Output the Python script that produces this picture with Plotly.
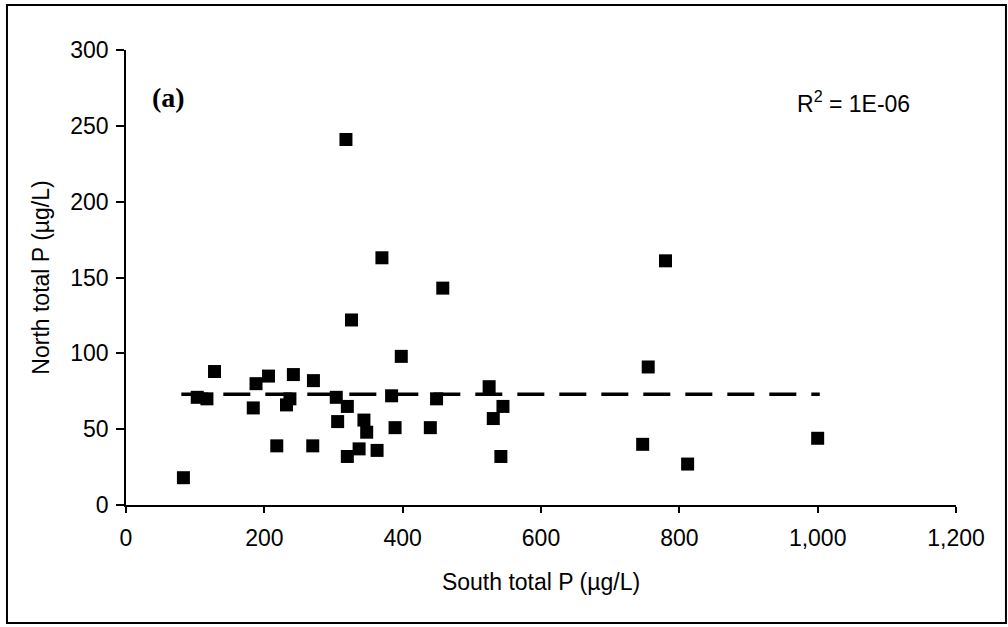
import plotly.graph_objects as go

# Data
south_p = [83, 103, 117, 128, 184, 188, 206, 218, 232, 237, 242, 270, 271, 304, 306,
           318, 320, 320, 326, 337, 344, 348, 363, 370, 384, 389, 398, 440, 449, 458,
           525, 531, 542, 545, 747, 755, 780, 812, 1000]
north_p = [18, 71, 70, 88, 64, 80, 85, 39, 66, 70, 86, 39, 82, 71, 55,
           241, 65, 32, 122, 37, 56, 48, 36, 163, 72, 51, 98, 51, 70, 143,
           78, 57, 32, 65, 40, 91, 161, 27, 44]
trend_x = [80, 1003]
trend_y = [73, 73]
x_ticks = [0, 200, 400, 600, 800, 1000, 1200]
y_ticks = [0, 50, 100, 150, 200, 250, 300]

FONT = "Liberation Sans, Arial, sans-serif"
FS = 23

fig = go.Figure()
fig.add_trace(go.Scatter(
    x=trend_x, y=trend_y, mode="lines",
    line=dict(color="black", width=3.5, dash="27px,15px"),
    hoverinfo="skip", showlegend=False))
fig.add_trace(go.Scatter(
    x=south_p, y=north_p, mode="markers",
    marker=dict(symbol="square", size=13, color="black"),
    showlegend=False))

fig.update_layout(
    width=1008, height=627,
    margin=dict(l=126, r=52, t=50, b=122),
    paper_bgcolor="white", plot_bgcolor="white",
    font=dict(family=FONT, color="black", size=FS),
    showlegend=False,
)
fig.update_xaxes(
    range=[0, 1200], tickvals=x_ticks, tickformat=",d",
    showline=True, linecolor="black", linewidth=1.5,
    ticks="outside", ticklen=6, tickwidth=1.5, tickcolor="black",
    showgrid=False, zeroline=False,
    ticklabelstandoff=6,
    tickfont=dict(family=FONT, size=FS),
    title=dict(text="South total P (µg/L)", font=dict(family=FONT, size=FS), standoff=24),
)
fig.update_yaxes(
    range=[0, 300], tickvals=y_ticks,
    showline=True, linecolor="black", linewidth=1.5,
    ticks="outside", ticklen=8, tickwidth=1.5, tickcolor="black",
    showgrid=False, zeroline=False,
    ticklabelstandoff=3,
    tickfont=dict(family=FONT, size=FS),
    title=dict(text="North total P (µg/L)", font=dict(family=FONT, size=FS), standoff=14),
)

fig.add_annotation(x=0.0518, y=0.8967, xref="paper", yref="paper",
                   text="<b>(a)</b>", showarrow=False, xanchor="center", yanchor="middle",
                   font=dict(family="Liberation Serif, Times New Roman, serif", size=28))
fig.add_annotation(x=1052, y=265.5, xref="x", yref="y",
                   text="R<sup>2</sup> = 1E-06", showarrow=False,
                   xanchor="center", yanchor="middle",
                   font=dict(family=FONT, size=FS))

# outer frame around the whole figure
fig.add_shape(type="rect", xref="paper", yref="paper",
              x0=-0.1434, x1=1.0602, y0=-0.2593, y1=1.0989,
              line=dict(color="black", width=2), fillcolor="rgba(0,0,0,0)", layer="below")

fig.write_html("out.html")
